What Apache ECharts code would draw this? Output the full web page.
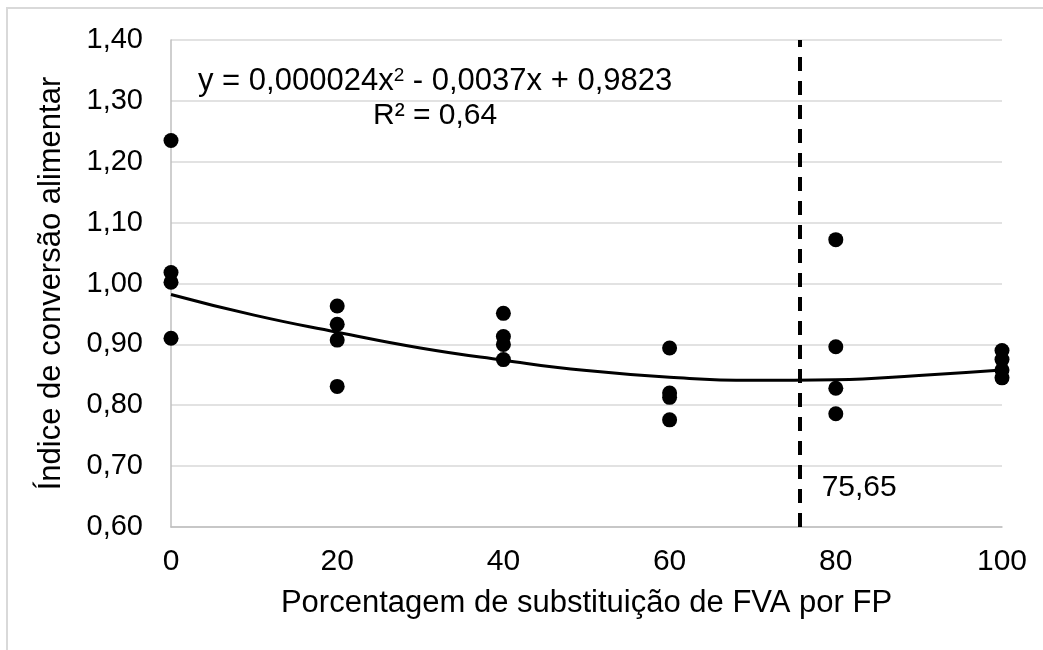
<!DOCTYPE html>
<html>
<head>
<meta charset="utf-8">
<script src="https://cdn.jsdelivr.net/npm/echarts@6/dist/echarts.min.js"></script>
<style>
  html, body { margin: 0; padding: 0; background: #fff; }
  #chart { width: 1043px; height: 650px; }
</style>
</head>
<body>
<div id="chart"></div>
<script>
// levels of substitution (x) and the observed values at each level
const doses = [0, 20, 40, 60, 80, 100]
const obsValues = [
  [1.235, 1.018, 1.002, 0.910],
  [0.963, 0.933, 0.907, 0.831],
  [0.951, 0.913, 0.900, 0.875],
  [0.894, 0.820, 0.813, 0.776],
  [1.072, 0.896, 0.828, 0.786],
  [0.890, 0.875, 0.858, 0.845]
]
// trend line
const trendX = [0, 10, 20, 30, 40, 50, 60, 70, 80, 90, 100]
const trendY = [0.982, 0.948, 0.920, 0.894, 0.874, 0.857, 0.846, 0.841, 0.842, 0.849, 0.858]
const optimum = 75.65
const optimumLabelY = 0.664
const xTicks = [0, 20, 40, 60, 80, 100]

const font = 'Liberation Sans, Arial, sans-serif'

const points = []
doses.forEach((d, i) => {
  obsValues[i].forEach(v => points.push([d, v]))
})

const chart = echarts.init(document.getElementById('chart'))
const option = {
  backgroundColor: '#fff',
  animation: false,
  textStyle: { fontFamily: font },
  graphic: [
    {
      type: 'rect',
      shape: { x: 7, y: 8, width: 1100, height: 700 },
      style: { fill: 'none', stroke: '#d9d9d9', lineWidth: 2 },
      silent: true
    },
    {
      type: 'text',
      left: 198,
      top: 66,
      style: {
        text: '{t|y = 0,000024x}{s|2}{t| - 0,0037x + 0,9823}',
        rich: {
          t: { fontSize: 31, fontFamily: font, fill: '#000', verticalAlign: 'bottom' },
          s: { fontSize: 19, fontFamily: font, fill: '#000', padding: [0, 0, 12, 0], verticalAlign: 'bottom' }
        }
      }
    },
    {
      type: 'text',
      left: 373,
      top: 101,
      style: { text: 'R² = 0,64', fontSize: 30, fontFamily: font, fill: '#000' }
    }
  ],
  grid: { left: 171, right: 41, top: 40, bottom: 123 },
  xAxis: {
    type: 'value',
    min: 0,
    max: 100,
    interval: 20,
    name: 'Porcentagem de substituição de FVA por FP',
    nameLocation: 'middle',
    nameGap: 61,
    nameTextStyle: { fontSize: 31, color: '#000', fontFamily: font },
    axisLine: { show: true, lineStyle: { color: '#bfbfbf', width: 1.5 } },
    axisTick: { show: false },
    splitLine: { show: false },
    axisLabel: {
      fontSize: 30,
      color: '#000',
      margin: 20,
      formatter: v => (xTicks.includes(v) ? String(v) : '')
    }
  },
  yAxis: {
    type: 'value',
    min: 0.6,
    max: 1.4,
    interval: 0.1,
    name: 'Índice de conversão alimentar',
    nameLocation: 'middle',
    nameGap: 104,
    nameTextStyle: { fontSize: 31, color: '#000', fontFamily: font },
    axisLine: { show: true, lineStyle: { color: '#bfbfbf', width: 1.5 } },
    axisTick: { show: false },
    splitLine: { lineStyle: { color: '#d9d9d9', width: 1.5 } },
    axisLabel: {
      fontSize: 29,
      color: '#000',
      margin: 28,
      formatter: v => v.toFixed(2).replace('.', ',')
    }
  },
  series: [
    {
      name: 'tendencia',
      type: 'line',
      data: trendX.map((x, i) => [x, trendY[i]]),
      smooth: true,
      showSymbol: false,
      lineStyle: { color: '#000', width: 3 },
      z: 2,
      markLine: {
        silent: true,
        symbol: 'none',
        label: { show: false },
        lineStyle: { color: '#000', width: 4, type: [14, 10], opacity: 1 },
        data: [{ xAxis: optimum }]
      }
    },
    {
      name: 'observado',
      type: 'scatter',
      data: points,
      symbolSize: 15,
      itemStyle: { color: '#000', opacity: 1 },
      z: 3
    },
    {
      name: 'rotulo',
      type: 'scatter',
      data: [[optimum, optimumLabelY]],
      symbolSize: 0,
      silent: true,
      itemStyle: { opacity: 1 },
      label: {
        show: true,
        position: 'right',
        distance: 22,
        formatter: () => String(optimum).replace('.', ','),
        fontSize: 30,
        color: '#000',
        fontFamily: font
      }
    }
  ]
}
option && chart.setOption(option)
</script>
</body>
</html>
